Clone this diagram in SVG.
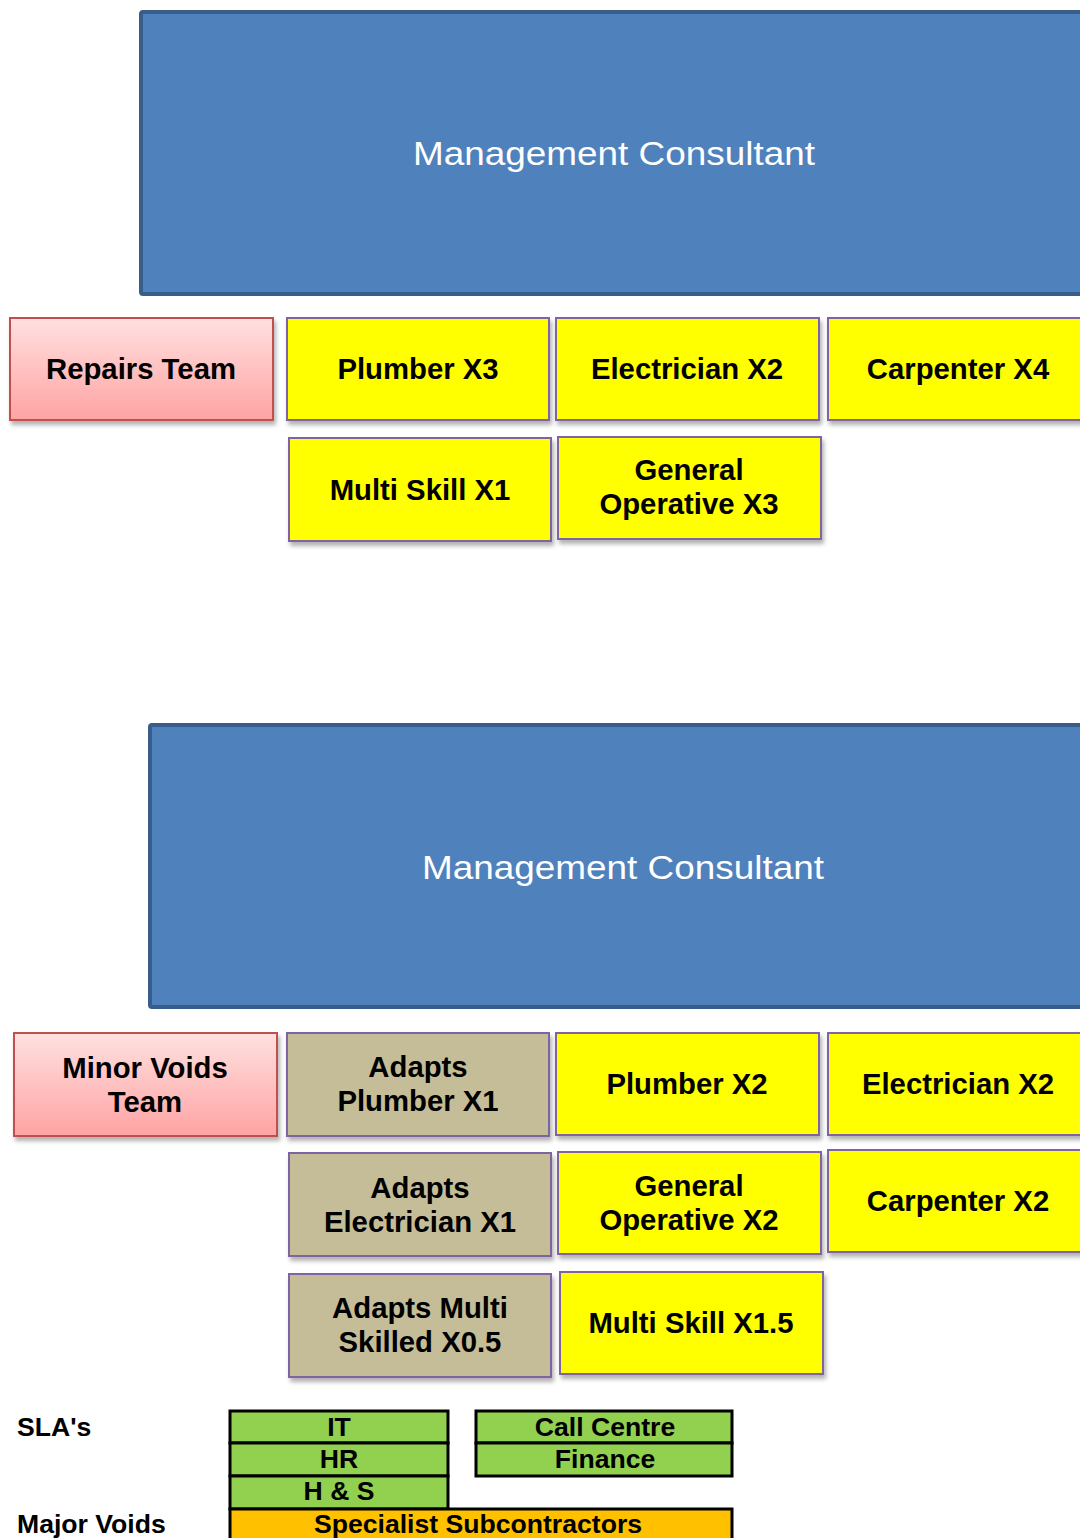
<svg xmlns="http://www.w3.org/2000/svg" width="1080" height="1538" viewBox="0 0 1080 1538">
<defs>
<linearGradient id="pink" x1="0" y1="0" x2="0" y2="1">
<stop offset="0" stop-color="#ffe0e0"/>
<stop offset="1" stop-color="#ffa3a3"/>
</linearGradient>
<filter id="sh" x="-10%" y="-10%" width="130%" height="140%">
<feDropShadow dx="2" dy="4" stdDeviation="2" flood-color="#000" flood-opacity="0.3"/>
</filter>
</defs>
<style>
text{font-family:"Liberation Sans",Arial,sans-serif;text-anchor:middle}
.lbl{font-size:29.3px;font-weight:bold;fill:#000}
.mc{fill:#4f81bd;stroke:#385d8a;stroke-width:4}
.mct{font-size:33px;fill:#fff}
.team{fill:url(#pink);stroke:#c0504d;stroke-width:2;filter:url(#sh)}
.yel{fill:#ffff00;stroke:#8064a2;stroke-width:2;filter:url(#sh)}
.tan{fill:#c4bd97;stroke:#8064a2;stroke-width:2;filter:url(#sh)}
.sla{fill:#92d050;stroke:#000;stroke-width:3}
.org{fill:#ffc000;stroke:#000;stroke-width:3}
.st{font-size:26.6px;font-weight:bold;fill:#000}
.side{font-size:26.6px;font-weight:bold;fill:#000;text-anchor:start}
</style>
<g id="connectors"></g>

<g id="mc1"><rect class="mc" x="141" y="12" width="960" height="282" rx="2"/><text class="mct" x="614" y="165" textLength="402" lengthAdjust="spacingAndGlyphs">Management Consultant</text></g>
<g id="repairs"><rect class="team" x="10" y="318" width="263" height="102"/><text class="lbl" x="141" y="379">Repairs Team</text></g>
<g id="plumber3"><rect class="yel" x="287" y="318" width="262" height="102"/><text class="lbl" x="418" y="379">Plumber X3</text></g>
<g id="elec2a"><rect class="yel" x="556" y="318" width="263" height="102"/><text class="lbl" x="687" y="379">Electrician X2</text></g>
<g id="carp4"><rect class="yel" x="828" y="318" width="262" height="102"/><text class="lbl" x="958" y="379">Carpenter X4</text></g>
<g id="multi1"><rect class="yel" x="289" y="438" width="262" height="103"/><text class="lbl" x="420" y="500">Multi Skill X1</text></g>
<g id="genop3"><rect class="yel" x="558" y="437" width="263" height="102"/><text class="lbl" x="689" y="480">General</text><text class="lbl" x="689" y="514">Operative X3</text></g>

<g id="mc2"><rect class="mc" x="150" y="725" width="960" height="282" rx="2"/><text class="mct" x="623" y="879" textLength="402" lengthAdjust="spacingAndGlyphs">Management Consultant</text></g>
<g id="minor"><rect class="team" x="14" y="1033" width="263" height="103"/><text class="lbl" x="145" y="1078">Minor Voids</text><text class="lbl" x="145" y="1112">Team</text></g>
<g id="adplumb"><rect class="tan" x="287" y="1033" width="262" height="103"/><text class="lbl" x="418" y="1077">Adapts</text><text class="lbl" x="418" y="1111">Plumber X1</text></g>
<g id="plumber2"><rect class="yel" x="556" y="1033" width="263" height="102"/><text class="lbl" x="687" y="1094">Plumber X2</text></g>
<g id="elec2b"><rect class="yel" x="828" y="1033" width="262" height="102"/><text class="lbl" x="958" y="1094">Electrician X2</text></g>
<g id="adelec"><rect class="tan" x="289" y="1153" width="262" height="103"/><text class="lbl" x="420" y="1198">Adapts</text><text class="lbl" x="420" y="1232">Electrician X1</text></g>
<g id="genop2"><rect class="yel" x="558" y="1152" width="263" height="102"/><text class="lbl" x="689" y="1196">General</text><text class="lbl" x="689" y="1230">Operative X2</text></g>
<g id="carp2"><rect class="yel" x="828" y="1150" width="262" height="102"/><text class="lbl" x="958" y="1211">Carpenter X2</text></g>
<g id="admulti"><rect class="tan" x="289" y="1274" width="262" height="103"/><text class="lbl" x="420" y="1318">Adapts Multi</text><text class="lbl" x="420" y="1352">Skilled X0.5</text></g>
<g id="multi15"><rect class="yel" x="560" y="1272" width="263" height="102"/><text class="lbl" x="691" y="1333">Multi Skill X1.5</text></g>

<g id="slas"><text class="side" x="17" y="1436">SLA's</text></g>
<g id="majorvoids"><text class="side" x="17" y="1533">Major Voids</text></g>
<g id="it"><rect class="sla" x="230" y="1411" width="218" height="32"/><text class="st" x="339" y="1436">IT</text></g>
<g id="hr"><rect class="sla" x="230" y="1443" width="218" height="33"/><text class="st" x="339" y="1468">HR</text></g>
<g id="hs"><rect class="sla" x="230" y="1476" width="218" height="33"/><text class="st" x="339" y="1500">H &amp; S</text></g>
<g id="callcentre"><rect class="sla" x="476" y="1411" width="256" height="32"/><text class="st" x="605" y="1436">Call Centre</text></g>
<g id="finance"><rect class="sla" x="476" y="1443" width="256" height="33"/><text class="st" x="605" y="1468">Finance</text></g>
<g id="specialist"><rect class="org" x="230" y="1509" width="502" height="40"/><text class="st" x="478" y="1533">Specialist Subcontractors</text></g>
</svg>
